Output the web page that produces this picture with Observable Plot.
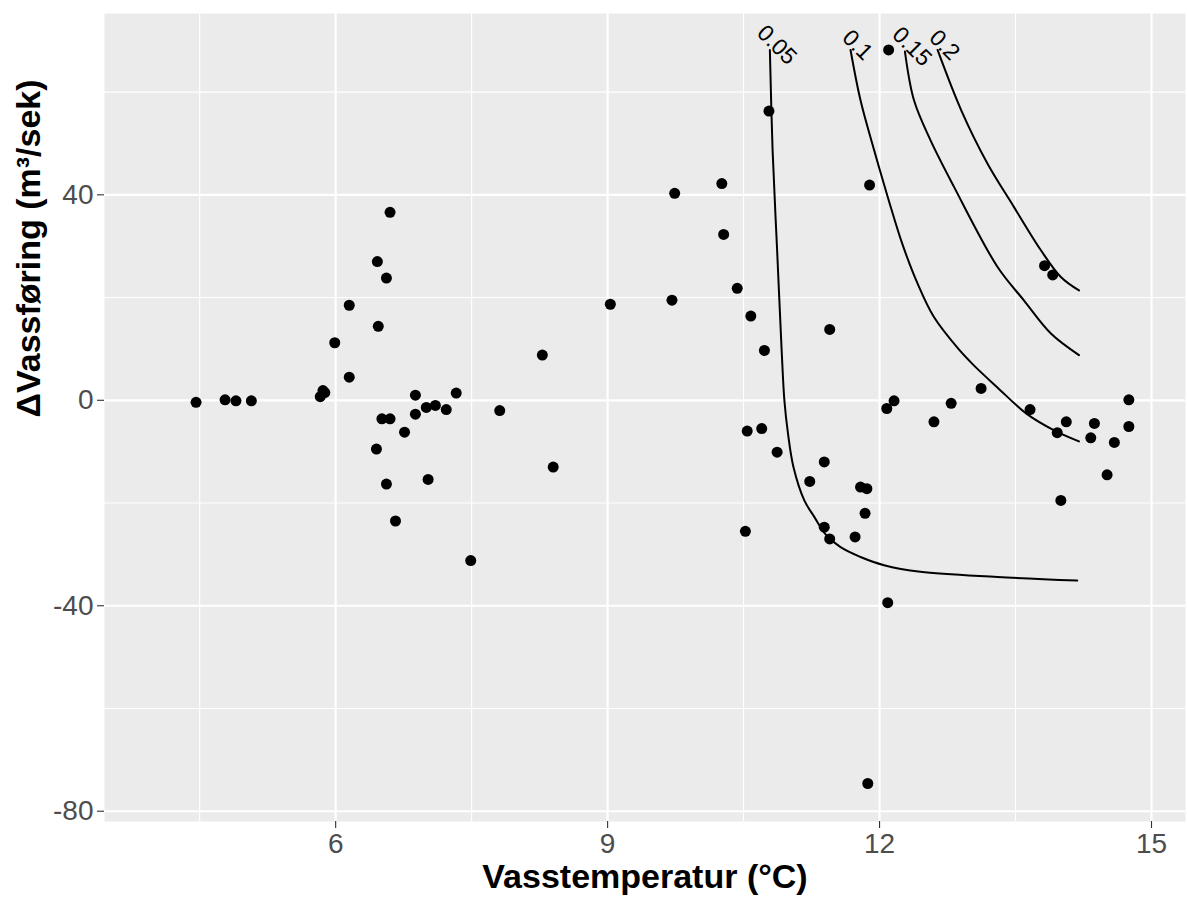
<!DOCTYPE html>
<html><head><meta charset="utf-8">
<script src="https://cdn.jsdelivr.net/npm/d3@7"></script>
<script src="https://cdn.jsdelivr.net/npm/@observablehq/plot@0.6"></script>
<style>body{margin:0;background:#fff}</style>
</head><body><div id="chart"></div>
<script>
// Observed points: water temperature (°C) and change in discharge (m³/sek)
const temperature = [
  4.46, 4.78, 4.90, 5.07, 5.83, 5.86, 5.88, 5.99, 6.15, 6.15,
  6.46, 6.60, 6.56, 6.47, 6.88, 7.33, 7.10, 7.00, 7.22, 6.88,
  6.51, 6.60, 6.76, 6.45, 7.81, 8.28, 6.56, 7.02, 6.66, 7.49,
  8.40,
  9.03, 9.74, 10.26, 11.89, 10.28, 10.43, 9.71, 10.58, 11.45, 10.73,
  12.08, 12.16, 12.79, 13.12, 12.60, 10.54, 10.70, 10.87, 11.39, 11.23,
  11.79, 11.86, 11.84, 11.39, 11.45, 11.73, 10.52, 12.09, 10.78, 12.10,
  11.87,
  13.82, 13.91, 13.66, 14.06, 13.96, 14.37, 14.33, 14.59, 14.75, 14.75,
  14.51, 14.00
];
const flowChange = [
  -0.4, 0.1, -0.1, -0.1, 0.7, 1.9, 1.5, 11.2, 18.5, 4.5,
  27.0, 36.6, 23.8, 14.4, 1.0, 1.4, -1.0, -1.4, -1.8, -2.7,
  -3.6, -3.6, -6.2, -9.5, -2.0, 8.8, -16.3, -15.4, -23.5, -31.2,
  -13.0,
  18.7, 40.3, 42.2, 41.9, 32.3, 21.8, 19.5, 16.4, 13.8, 9.7,
  -1.6, -0.1, -0.6, 2.3, -4.2, -6.0, -5.5, -10.1, -12.0, -15.8,
  -16.9, -17.2, -22.0, -24.7, -27.0, -26.6, -25.5, -39.4, 56.3, 68.2,
  -74.6,
  26.2, 24.4, -1.8, -4.2, -6.3, -4.5, -7.3, -8.2, 0.1, -5.1,
  -14.5, -19.5
];

// Contour lines (levels 0.05, 0.1, 0.15, 0.2)
const contourLevels = ["0.05", "0.1", "0.15", "0.2"];
const contour005T = [10.79, 10.82, 10.87, 10.92, 10.95, 10.99, 11.05, 11.17, 11.28, 11.40, 11.57, 11.79, 12.05, 12.45, 13.30, 14.18];
const contour005Q = [68.2, 48.7, 29.2, 9.7, 0.0, -6.5, -13.0, -19.5, -22.7, -26.0, -28.6, -30.5, -32.1, -33.4, -34.4, -35.1];
const contour010T = [11.68, 11.79, 11.94, 12.10, 12.25, 12.42, 12.60, 12.87, 13.04, 13.30, 13.62, 13.92, 14.20];
const contour010Q = [68.2, 58.4, 48.7, 39.0, 30.5, 22.7, 16.2, 10.0, 6.8, 2.5, -2.6, -5.8, -8.0];
const contour015T = [12.28, 12.38, 12.56, 12.82, 13.30, 13.59, 13.89, 14.20];
const contour015Q = [67.9, 58.4, 50.7, 41.6, 26.0, 19.5, 13.0, 8.8];
const contour020T = [12.64, 12.90, 13.19, 13.48, 13.78, 14.00, 14.20];
const contour020Q = [68.2, 56.5, 46.1, 37.7, 29.2, 24.0, 21.4];

const xTicks = [6, 9, 12, 15];
const xMinor = [4.5, 7.5, 10.5, 13.5];
const yTicks = [-80, -40, 0, 40];
const yMinor = [-60, -20, 20, 60];

const points = temperature.map((t, i) => ({t, q: flowChange[i]}));
const contourTs = [contour005T, contour010T, contour015T, contour020T];
const contourQs = [contour005Q, contour010Q, contour015Q, contour020Q];
const contours = contourLevels.flatMap((lvl, k) => contourTs[k].map((t, i) => ({level: lvl, t, q: contourQs[k][i]})));
const labels = contourLevels.map((lvl, k) => ({level: lvl, t: contourTs[k][0], q: contourQs[k][0]}));

const chart = Plot.plot({
  width: 1187, height: 897,
  marginLeft: 104, marginRight: 2, marginTop: 13, marginBottom: 76,
  x: {domain: [3.45, 15.375]},
  y: {domain: [-82.0, 75.3]},
  style: {fontFamily: "'Liberation Sans', Arial, sans-serif", background: "#fff"},
  marks: [
    Plot.frame({fill: "#EBEBEB", stroke: "none"}),
    Plot.gridX(xMinor, {stroke: "#fff", strokeOpacity: 1, strokeWidth: 1.1}),
    Plot.gridY(yMinor, {stroke: "#fff", strokeOpacity: 1, strokeWidth: 1.1}),
    Plot.gridX(xTicks, {stroke: "#fff", strokeOpacity: 1, strokeWidth: 2.2}),
    Plot.gridY(yTicks, {stroke: "#fff", strokeOpacity: 1, strokeWidth: 2.2}),
    Plot.line(contours, {x: "t", y: "q", z: "level", stroke: "black", strokeWidth: 2, curve: "catmull-rom"}),
    Plot.dot(points, {x: "t", y: "q", r: 5.5, fill: "black", stroke: "none"}),
    Plot.text(labels, {x: "t", y: "q", text: "level", rotate: 45, fontSize: 23, dx: 7, dy: -5, fill: "black"}),
    Plot.axisX(xTicks, {tickSize: 7, tickPadding: 5, fontSize: 28, stroke: "#333", fill: "#4D4D4D", strokeWidth: 1.1, label: null, tickFormat: d => String(d)}),
    Plot.axisY(yTicks, {tickSize: 7, tickPadding: 4, fontSize: 28, stroke: "#333", fill: "#4D4D4D", strokeWidth: 1.1, label: null, tickFormat: d => String(d)}),
    Plot.text(["Vasstemperatur (°C)"], {frameAnchor: "bottom", dy: 66, fontSize: 34, fontWeight: "bold", fill: "black"}),
    Plot.text(["ΔVassføring (m³/sek)"], {frameAnchor: "left", dx: -75, rotate: -90, fontSize: 34, fontWeight: "bold", fill: "black"})
  ]
});
document.getElementById("chart").appendChild(chart);
</script>
</body></html>
